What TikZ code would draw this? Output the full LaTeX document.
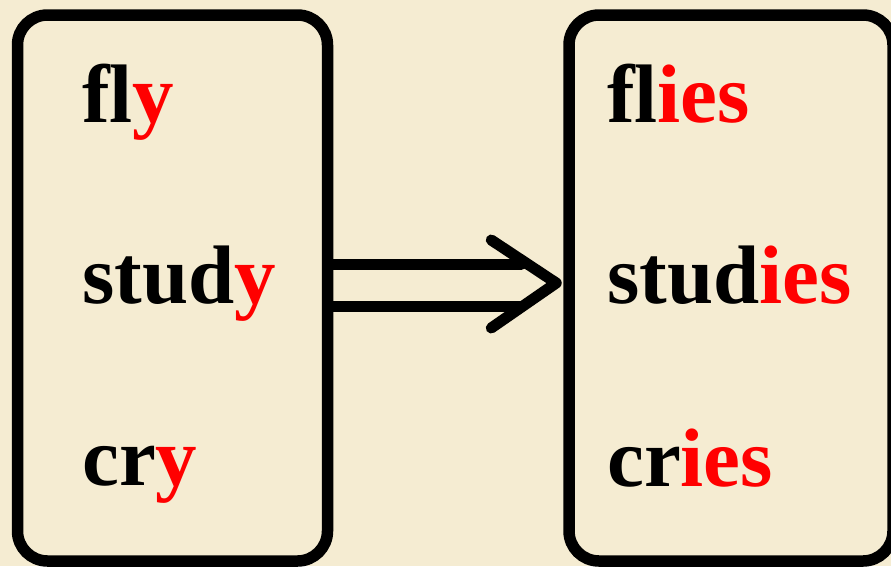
\documentclass[tikz,border=0pt]{standalone}
\usepackage{fontspec}
\setmainfont{Liberation Serif}
\usetikzlibrary{calc}
\definecolor{bg}{RGB}{245,236,210}
\definecolor{redt}{RGB}{255,0,0}
\tikzset{
  wordbox/.style={draw=black, line width=11.5pt, rounded corners=30pt, inner sep=0pt},
  word/.style={anchor=base west, inner sep=0pt, font=\fontsize{83}{90}\selectfont\bfseries},
  arrowline/.style={line width=11pt, line cap=round, line join=round}
}
\newcommand{\rd}[1]{\textcolor{redt}{#1}}
\begin{document}
\begin{tikzpicture}[x=1pt,y=-1pt]
\useasboundingbox (0,0) rectangle (891,566);
\fill[bg] (0,0) rectangle (891,566);
\clip (0,0) rectangle (891,566);
\node[wordbox, minimum width=310pt, minimum height=546pt] (L) at (172.5,288) {};
\node[wordbox, minimum width=324pt, minimum height=546pt] (R) at (731,288) {};
\node[word] (w1) at (82,122) {fl\rd{y}};
\node[word] (w2) at (82,303) {stud\rd{y}};
\node[word] (w3) at (82,485) {cr\rd{y}};
\node[word] (v1) at (607,122) {fl\rd{ies}};
\node[word] (v2) at (607,303) {stud\rd{ies}};
\node[word] (v3) at (607,486) {cr\rd{ies}};
\coordinate (T) at ($(R.west)+(-7,-5)$);
\draw[arrowline] ($(L.east)+(0,-23.5)$) -- ($(T)+(-35,-18.5)$);
\draw[arrowline] ($(L.east)+(0,18.5)$) -- ($(T)+(-35,23.5)$);
\draw[arrowline] ($(T)+(-65,-43)$) -- (T) -- ($(T)+(-65,45)$);
\end{tikzpicture}
\end{document}
